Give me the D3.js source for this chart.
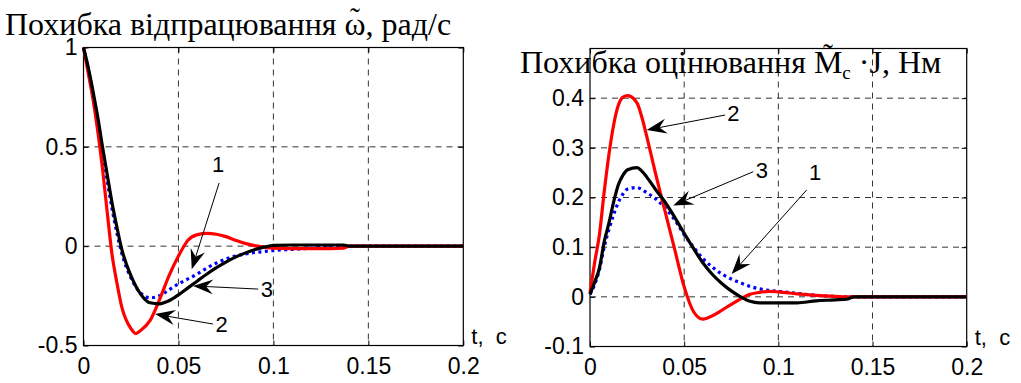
<!DOCTYPE html>
<html>
<head>
<meta charset="utf-8">
<script src="https://cdn.jsdelivr.net/npm/d3@7"></script>
<style>
  body { margin: 0; background: #fff; }
  svg { display: block; }
</style>
</head>
<body>
<script>
// time grid, s
const tGrid = [0, 0.0025, 0.005, 0.0075, 0.01, 0.0125, 0.015, 0.0175, 0.02, 0.025, 0.0275, 0.03, 0.035, 0.04,
  0.045, 0.05, 0.055, 0.06, 0.065, 0.07, 0.075, 0.08, 0.085, 0.09, 0.095, 0.1, 0.11, 0.12, 0.13, 0.137, 0.14, 0.15, 0.2];

// speed tracking error (left)
const omegaBlue = [1, 0.89, 0.77, 0.63, 0.48, 0.33, 0.19, 0.07, -0.03, -0.16, -0.205, -0.235, -0.26, -0.25,
  -0.22, -0.19, -0.165, -0.14, -0.11, -0.085, -0.065, -0.05, -0.04, -0.032, -0.027, -0.022, -0.016, -0.01, -0.004, -0.002, 0, 0, 0];
const omegaRed = [1, 0.87, 0.74, 0.58, 0.39, 0.17, -0.04, -0.18, -0.3, -0.415, -0.44, -0.425, -0.375, -0.27,
  -0.15, -0.05, 0.03, 0.058, 0.064, 0.06, 0.048, 0.03, 0.014, 0.003, -0.005, -0.01, -0.012, -0.012, -0.012, -0.01, 0, 0, 0];
const omegaBlack = [1, 0.9, 0.78, 0.65, 0.5, 0.36, 0.22, 0.1, -0.01, -0.15, -0.2, -0.24, -0.285, -0.29,
  -0.275, -0.245, -0.21, -0.175, -0.14, -0.108, -0.08, -0.055, -0.035, -0.018, -0.005, 0.004, 0.006, 0.006, 0.006, 0.006, 0, 0, 0];

// load torque estimation error (right)
const torqueBlue = [0.005, 0.025, 0.055, 0.1, 0.135, 0.165, 0.19, 0.207, 0.217, 0.22, 0.216, 0.21, 0.197, 0.178,
  0.155, 0.125, 0.1, 0.077, 0.06, 0.046, 0.036, 0.028, 0.021, 0.016, 0.013, 0.011, 0.007, 0.003, 0.001, 0, 0, 0, 0];
const torqueRed = [0.008, 0.07, 0.125, 0.21, 0.285, 0.345, 0.385, 0.402, 0.405, 0.39, 0.362, 0.325, 0.245, 0.17,
  0.095, 0.02, -0.03, -0.045, -0.038, -0.027, -0.015, -0.004, 0.005, 0.009, 0.011, 0.01, 0.006, 0.003, 0.001, 0, 0, 0, 0];
const torqueBlack = [0.005, 0.03, 0.058, 0.11, 0.148, 0.19, 0.225, 0.245, 0.256, 0.26, 0.253, 0.242, 0.215, 0.19,
  0.16, 0.128, 0.097, 0.068, 0.045, 0.027, 0.012, 0, -0.009, -0.012, -0.012, -0.012, -0.012, -0.008, -0.006, -0.004, 0, 0, 0];

const xTicks = [0, 0.05, 0.1, 0.15, 0.2];
const omegaTicks = [-0.5, 0, 0.5, 1];
const torqueTicks = [-0.1, 0, 0.1, 0.2, 0.3, 0.4];

// curve numbers with arrows, in data units: label point, arrow tail, arrow tip
const omegaNotes = [
  {text: "1", at: [0.0709, 0.412], from: [0.0714, 0.318], to: [0.057, -0.116]},
  {text: "3", at: [0.0965, -0.216], from: [0.092, -0.216], to: [0.0577, -0.2]},
  {text: "2", at: [0.0728, -0.392], from: [0.0682, -0.392], to: [0.0377, -0.342]}
];
const torqueNotes = [
  {text: "2", at: [0.0761, 0.37], from: [0.0717, 0.366], to: [0.0301, 0.336]},
  {text: "3", at: [0.0912, 0.255], from: [0.0867, 0.252], to: [0.0442, 0.184]},
  {text: "1", at: [0.1195, 0.252], from: [0.115, 0.215], to: [0.0752, 0.046]}
];

const width = 1021;
const height = 383;
const sans = "'Liberation Sans', Arial, sans-serif";
const serif = "'Liberation Serif', 'Times New Roman', serif";

const svg = d3.select("body")
  .append("svg")
  .attr("width", width)
  .attr("height", height);

function panel(opt) {
  const x = d3.scaleLinear().domain([0, 0.2]).range([opt.left, opt.right]);
  const y = d3.scaleLinear().domain(opt.yDomain).range([opt.bottom, opt.top]);
  const g = svg.append("g");

  // grid
  g.selectAll(".vgrid")
    .data(xTicks.filter(d => d > 0 && d < 0.2))
    .enter().append("line")
    .attr("x1", d => x(d)).attr("x2", d => x(d))
    .attr("y1", opt.top).attr("y2", opt.bottom)
    .attr("stroke", "#000").attr("stroke-width", 0.8)
    .attr("stroke-dasharray", "6,5");
  g.selectAll(".hgrid")
    .data(opt.yTicks.filter(d => d > opt.yDomain[0] && d < opt.yDomain[1]))
    .enter().append("line")
    .attr("x1", opt.left).attr("x2", opt.right)
    .attr("y1", d => y(d)).attr("y2", d => y(d))
    .attr("stroke", "#000").attr("stroke-width", 0.8)
    .attr("stroke-dasharray", "6,5");

  // axes
  const fmt = d => String(d);
  const axB = g.append("g")
    .attr("transform", `translate(0,${opt.bottom})`)
    .call(d3.axisBottom(x).tickValues(xTicks).tickFormat(fmt).tickSizeInner(-5).tickSizeOuter(0).tickPadding(12));
  const axL = g.append("g")
    .attr("transform", `translate(${opt.left},0)`)
    .call(d3.axisLeft(y).tickValues(opt.yTicks).tickFormat(fmt).tickSizeInner(-5).tickSizeOuter(0).tickPadding(6));
  g.append("g")
    .attr("transform", `translate(0,${opt.top})`)
    .call(d3.axisTop(x).tickValues(xTicks).tickFormat("").tickSizeInner(-5).tickSizeOuter(0));
  g.append("g")
    .attr("transform", `translate(${opt.right},0)`)
    .call(d3.axisRight(y).tickValues(opt.yTicks).tickFormat("").tickSizeInner(-5).tickSizeOuter(0));
  g.selectAll(".domain").remove();
  g.selectAll(".tick line").attr("stroke", "#000");
  [axB, axL].forEach(a => a.selectAll("text")
    .attr("font-family", sans)
    .attr("font-size", 23)
    .attr("fill", "#000"));

  // box
  g.append("rect")
    .attr("x", opt.left).attr("y", opt.top)
    .attr("width", opt.right - opt.left).attr("height", opt.bottom - opt.top)
    .attr("fill", "none").attr("stroke", "#000").attr("stroke-width", 1.2);

  // curves
  const line = d3.line()
    .x((d, i) => x(tGrid[i]))
    .y(d => y(d))
    .curve(d3.curveMonotoneX);
  const series = [
    {v: opt.blue, color: "#0000ff", dash: "3,3.5", w: 3.2},
    {v: opt.red, color: "#ff0000", dash: null, w: 3.2},
    {v: opt.black, color: "#000000", dash: null, w: 3.2}
  ];
  series.forEach(s => {
    g.append("path")
      .datum(s.v)
      .attr("fill", "none")
      .attr("stroke", s.color)
      .attr("stroke-width", s.w)
      .attr("stroke-dasharray", s.dash)
      .attr("stroke-linejoin", "round")
      .attr("d", line);
  });

  // arrows + labels
  opt.notes.forEach(n => {
    const x0 = x(n.from[0]), y0 = y(n.from[1]);
    const x1 = x(n.to[0]), y1 = y(n.to[1]);
    const ang = Math.atan2(y1 - y0, x1 - x0);
    const len = 20, hw = 7.5, notch = 13;
    const ca = Math.cos(ang), sa = Math.sin(ang);
    const bx = x1 - len * ca, by = y1 - len * sa;
    const nx = x1 - notch * ca, ny = y1 - notch * sa;
    g.append("line")
      .attr("x1", x0).attr("y1", y0)
      .attr("x2", nx).attr("y2", ny)
      .attr("stroke", "#000").attr("stroke-width", 1);
    g.append("path")
      .attr("d", `M${x1},${y1}L${bx - hw * sa},${by + hw * ca}L${nx},${ny}L${bx + hw * sa},${by - hw * ca}Z`)
      .attr("fill", "#000");
    g.append("text")
      .attr("x", x(n.at[0])).attr("y", y(n.at[1]))
      .attr("dy", "0.36em")
      .attr("text-anchor", "middle")
      .attr("font-family", sans)
      .attr("font-size", 22)
      .text(n.text);
  });

  // t axis name
  g.append("text")
    .attr("x", opt.right + 8).attr("y", opt.bottom - 2)
    .attr("font-family", sans)
    .attr("font-size", 22)
    .attr("xml:space", "preserve")
    .text("t,  с");

  return g;
}

panel({
  left: 83.5, right: 463.3, top: 47.5, bottom: 345.5,
  yDomain: [-0.5, 1], yTicks: omegaTicks,
  blue: omegaBlue, red: omegaRed, black: omegaBlack,
  notes: omegaNotes
});

panel({
  left: 590, right: 966.7, top: 48.5, bottom: 346.5,
  yDomain: [-0.1, 0.5], yTicks: torqueTicks,
  blue: torqueBlue, red: torqueRed, black: torqueBlack,
  notes: torqueNotes
});

// titles
const t1 = svg.append("text")
  .attr("x", 5).attr("y", 35)
  .attr("font-family", serif)
  .attr("font-size", 32)
  .text("Похибка відпрацювання \u03C9, рад/с");
// tilde over omega, placed over the glyph
const wi = t1.text().indexOf("\u03C9");
const box = t1.node().getExtentOfChar(wi);
svg.append("text")
  .attr("x", box.x + box.width / 2).attr("y", 28)
  .attr("text-anchor", "middle")
  .attr("font-family", serif)
  .attr("font-size", 30)
  .text("\u02DC");

const t2 = svg.append("text")
  .attr("x", 520).attr("y", 73)
  .attr("font-family", serif)
  .attr("font-size", 32)
  .attr("xml:space", "preserve");
t2.append("tspan").text("Похибка оцінювання M");
t2.append("tspan").attr("font-size", 19).attr("dy", 6).text("с");
t2.append("tspan").attr("dy", -6).text(" \u00B7J, Нм");
const mi = "Похибка оцінювання M".length - 1;
const mbox = t2.node().getExtentOfChar(mi);
svg.append("text")
  .attr("x", mbox.x + mbox.width / 2).attr("y", 64)
  .attr("text-anchor", "middle")
  .attr("font-family", serif)
  .attr("font-size", 30)
  .text("\u02DC");
</script>
</body>
</html>
